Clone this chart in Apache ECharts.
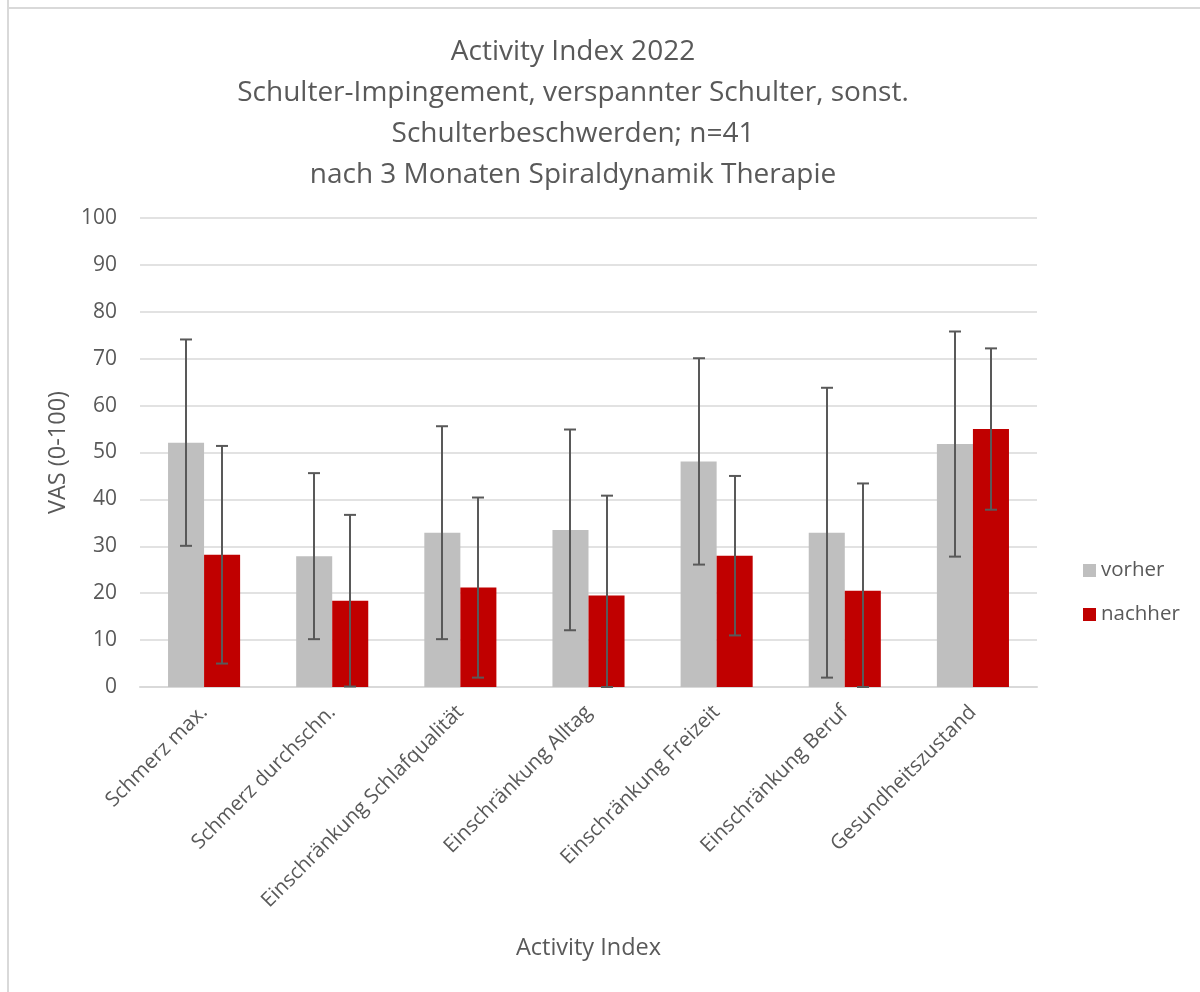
<!DOCTYPE html>
<html>
<head>
<meta charset="utf-8">
<script src="https://cdn.jsdelivr.net/npm/echarts@6/dist/echarts.min.js"></script>
<style>
html,body{margin:0;padding:0;background:#fff;}
#c{width:1200px;height:992px;}
</style>
</head>
<body>
<div id="c"></div>
<script>
const categories = ['Schmerz max.', 'Schmerz durchschn.', 'Einschränkung Schlafqualität', 'Einschränkung Alltag', 'Einschränkung Freizeit', 'Einschränkung Beruf', 'Gesundheitszustand'];
const vorher = [52.1, 27.9, 32.9, 33.5, 48.1, 32.9, 51.8];
const nachher = [28.2, 18.4, 21.2, 19.5, 28.0, 20.5, 55.0];
const vorherSD = [22.0, 17.7, 22.7, 21.4, 22.0, 30.9, 24.0];
const nachherSD = [23.2, 18.3, 19.2, 21.3, 17.0, 22.9, 17.2];
const yTicks = [0, 10, 20, 30, 40, 50, 60, 70, 80, 90, 100];

const FONT = 'Open Sans';
const TXT = '#595959';
const BAR_FRAC = (1 - 0.4375) / 2;

function errData(vals, sds) {
  return vals.map((v, i) => [i, Math.max(0, v - sds[i]), v + sds[i]]);
}
function errSeries(name, vals, sds, sign) {
  return {
    type: 'custom',
    name: name + ' err',
    z: 10,
    silent: true,
    data: errData(vals, sds),
    encode: { x: 0, y: [1, 2] },
    renderItem: function (params, api) {
      const i = api.value(0);
      const lo = api.coord([i, api.value(1)]);
      const hi = api.coord([i, api.value(2)]);
      const band = api.size([1, 0])[0];
      const x = Math.round(lo[0] + sign * band * BAR_FRAC / 2);
      const cap = 6;
      const style = { stroke: '#595959', lineWidth: 2 };
      return {
        type: 'group',
        children: [
          { type: 'line', shape: { x1: x, y1: lo[1], x2: x, y2: hi[1] }, style: style },
          { type: 'line', shape: { x1: x - cap, y1: hi[1], x2: x + cap, y2: hi[1] }, style: style },
          { type: 'line', shape: { x1: x - cap, y1: lo[1], x2: x + cap, y2: lo[1] }, style: style }
        ]
      };
    }
  };
}

const chart = echarts.init(document.getElementById('c'), null, { renderer: 'canvas' });
chart.setOption({
  animation: false,
  backgroundColor: '#fff',
  textStyle: { fontFamily: FONT },
  graphic: [
    { type: 'line', shape: { x1: 8, y1: 0, x2: 8, y2: 992 }, style: { stroke: '#d9d9d9', lineWidth: 2 } },
    { type: 'line', shape: { x1: 7, y1: 8, x2: 1200, y2: 8 }, style: { stroke: '#d9d9d9', lineWidth: 2 } }
  ],
  title: {
    text: 'Activity Index 2022\nSchulter-Impingement, verspannter Schulter, sonst.\nSchulterbeschwerden; n=41\nnach 3 Monaten Spiraldynamik Therapie',
    left: 568,
    textAlign: 'center',
    top: 27,
    textStyle: { fontFamily: FONT, fontSize: 28, fontWeight: 'normal', color: TXT, lineHeight: 41 }
  },
  legend: {
    orient: 'vertical',
    left: 1078,
    top: 555,
    itemWidth: 13,
    itemHeight: 13,
    itemGap: 23,
    icon: 'rect',
    data: ['vorher', 'nachher'],
    textStyle: { fontFamily: FONT, fontSize: 20.5, color: TXT, lineHeight: 21 }
  },
  grid: { left: 140, right: 163, top: 218, bottom: 305, containLabel: false },
  xAxis: {
    type: 'category',
    data: categories,
    name: 'Activity Index',
    nameLocation: 'middle',
    nameGap: 249,
    nameTextStyle: { fontFamily: FONT, fontSize: 23.5, color: TXT },
    axisLine: { lineStyle: { color: '#d9d9d9', width: 2 } },
    axisTick: { show: false },
    axisLabel: { rotate: 45, interval: 0, fontSize: 20.5, color: TXT, margin: 22, fontFamily: FONT }
  },
  yAxis: {
    type: 'value',
    min: yTicks[0],
    max: yTicks[yTicks.length - 1],
    interval: 10,
    name: 'VAS (0-100)',
    nameLocation: 'middle',
    nameGap: 70,
    nameTextStyle: { fontFamily: FONT, fontSize: 23.5, color: TXT },
    axisLine: { show: false },
    axisTick: { show: false },
    axisLabel: { fontSize: 21, color: TXT, margin: 23, fontFamily: FONT },
    splitLine: { lineStyle: { color: '#d9d9d9', width: 1.5 } }
  },
  series: [
    { type: 'bar', name: 'vorher', data: vorher, itemStyle: { color: '#bfbfbf' }, barGap: '0%', barCategoryGap: '43.75%' },
    { type: 'bar', name: 'nachher', data: nachher, itemStyle: { color: '#c00000' }, barGap: '0%', barCategoryGap: '43.75%' },
    errSeries('vorher', vorher, vorherSD, -1),
    errSeries('nachher', nachher, nachherSD, 1)
  ]
});
</script>
</body>
</html>
